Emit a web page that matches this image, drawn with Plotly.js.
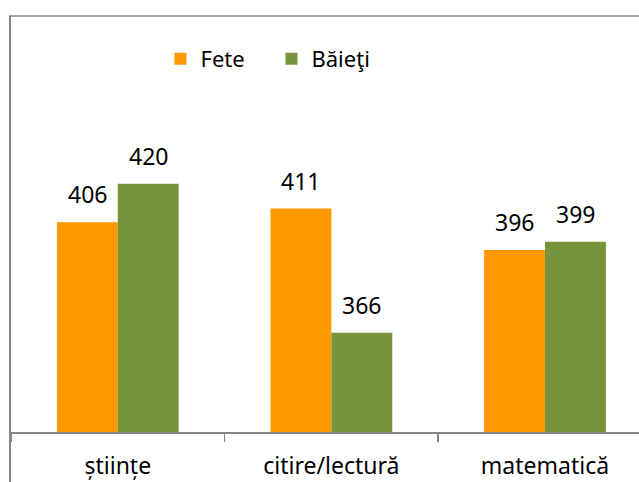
<!DOCTYPE html>
<html>
<head>
<meta charset="utf-8">
<script src="https://cdn.plot.ly/plotly-3.0.1.min.js"></script>
<style>
  html, body { margin: 0; padding: 0; background: #ffffff; }
  #chart { width: 639px; height: 482px; }
</style>
</head>
<body>
<div id="chart"></div>
<script>
const categories = ["științe", "citire/lectură", "matematică"];
const seriesNames = ["Fete", "Băieţi"];
const fete = [406, 411, 396];
const baieti = [420, 366, 399];
const colors = ["#FF9900", "#77933C"];

const FONT = "'Noto Sans', 'Open Sans', sans-serif";
const barHalfOffset = 30.5; // pixel offset of each bar centre within its group

const traces = [fete, baieti].map((vals, k) => ({
  type: "bar",
  name: seriesNames[k],
  x: categories,
  y: vals,
  marker: { color: colors[k], line: { width: 0 } },
  hoverinfo: "x+y+name"
}));

const annotations = [];
[fete, baieti].forEach((vals, k) => {
  vals.forEach((v, i) => {
    annotations.push({
      x: categories[i], y: v, xref: "x", yref: "y",
      text: String(v), showarrow: false,
      xanchor: "center", yanchor: "bottom",
      xshift: (k === 0 ? -1 : 1) * barHalfOffset,
      yshift: 10,
      font: { family: FONT, size: 23, color: "#000000" }
    });
  });
});

const layout = {
  width: 639, height: 482,
  margin: { l: 11, r: 0, t: 16, b: 50, pad: 0 },
  paper_bgcolor: "#ffffff",
  plot_bgcolor: "#ffffff",
  barmode: "group",
  bargap: 0.43,
  bargroupgap: 0,
  showlegend: true,
  legend: {
    orientation: "h",
    x: 0.238, xanchor: "left",
    y: 0.897, yanchor: "middle",
    font: { family: FONT, size: 22, color: "#000000" },
    entrywidth: 66, entrywidthmode: "pixels",
    bgcolor: "rgba(0,0,0,0)"
  },
  xaxis: {
    type: "category",
    range: [-0.5, 2.44],
    showline: true, linecolor: "#868686", linewidth: 1.5,
    ticks: "outside", tickson: "boundaries", ticklen: 8,
    tickcolor: "#868686", tickwidth: 1.5,
    ticklabelstandoff: 13,
    tickfont: { family: FONT, size: 23, color: "#000000" },
    showgrid: false, zeroline: false, fixedrange: true
  },
  yaxis: {
    range: [330, 480.8],
    visible: false,
    showgrid: false, zeroline: false, fixedrange: true
  },
  annotations: annotations,
  shapes: [
    { type: "line", xref: "paper", yref: "paper",
      x0: -0.0016, x1: -0.0016, y0: -0.13, y1: 1,
      line: { color: "#898989", width: 2 } },
    { type: "line", xref: "paper", yref: "paper",
      x0: -0.0032, x1: 1.01, y0: 1, y1: 1,
      line: { color: "#898989", width: 1.5 } }
  ]
};

Plotly.newPlot("chart", traces, layout, { displayModeBar: false, staticPlot: true });
</script>
</body>
</html>
